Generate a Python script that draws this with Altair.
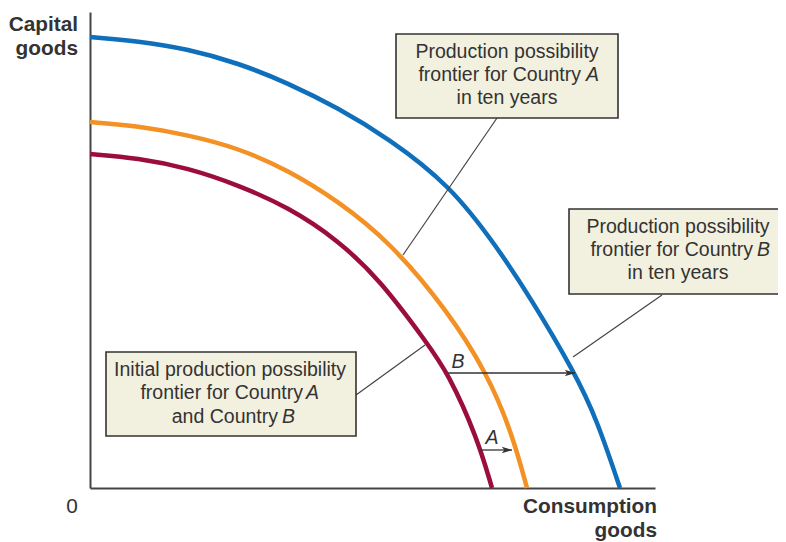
import altair as alt
import pandas as pd

# ---- data (chart units: consumption goods on x, capital goods on y) ----
initial_x = [0, 48, 98, 148, 198, 248, 290, 337, 358, 387, 402]
initial_y = [334, 330, 320, 303, 281, 248, 208, 145, 115, 51, 0]

countryA_x = [0, 48, 98, 148, 198, 248, 300, 357, 397, 422, 437]
countryA_y = [366, 362, 353, 340, 318, 287, 246, 178, 115, 55, 0]

countryB_x = [0, 48, 98, 148, 198, 248, 298, 360, 407, 440, 485, 507, 530]
countryB_y = [451, 447, 439, 425, 405, 380, 350, 303, 241, 191, 115, 68, 0]

box_x1 = [306, 479, 16]
box_x2 = [528, 692, 266]
box_y1 = [454, 279, 136]
box_y2 = [370, 194, 52]

leader_x1 = [407, 572, 266]
leader_y1 = [370, 193, 93]
leader_x2 = [313, 483, 335]
leader_y2 = [233, 131, 143]

arrow_x1 = [358, 390]
arrow_x2 = [485, 422]
arrow_y = [115, 38]
arrow_letters = ["B", "A"]
letter_x = [368, 402]
letter_y = [126, 50]

center_text = ["Production possibility", "in ten years",
               "Production possibility", "in ten years",
               "Initial production possibility"]
center_x = [417, 417, 588, 588, 140]
center_y = [436, 390, 261, 215, 118]

right_text = ["frontier for Country", "frontier for Country",
              "frontier for Country", "and Country"]
right_x = [491, 663, 213, 188]
right_y = [413, 238, 95, 71]

italic_text = ["A", "B", "A", "B"]
italic_x = [496, 667, 216, 192]
italic_y = [413, 238, 95, 71]

ytitle_text = ["Capital", "goods"]
ytitle_x = [-12, -12]
ytitle_y = [463, 439]

xtitle_text = ["Consumption", "goods"]
xtitle_x = [567, 567]
xtitle_y = [-19, -43]

origin_text = ["0"]
origin_x = [-18]
origin_y = [-19]

# ---- tables ----
curves = pd.concat([
    pd.DataFrame({"x": initial_x, "y": initial_y, "curve": "initial", "i": range(len(initial_x))}),
    pd.DataFrame({"x": countryA_x, "y": countryA_y, "curve": "A", "i": range(len(countryA_x))}),
    pd.DataFrame({"x": countryB_x, "y": countryB_y, "curve": "B", "i": range(len(countryB_x))}),
])
boxes = pd.DataFrame({"x": box_x1, "x2": box_x2, "y": box_y1, "y2": box_y2})
leaders = pd.DataFrame({"x": leader_x1, "y": leader_y1, "x2": leader_x2, "y2": leader_y2})
arrows = pd.DataFrame({"x": arrow_x1, "x2": arrow_x2, "y": arrow_y})
letters = pd.DataFrame({"x": letter_x, "y": letter_y, "t": arrow_letters})
ctext = pd.DataFrame({"x": center_x, "y": center_y, "t": center_text})
rtext = pd.DataFrame({"x": right_x, "y": right_y, "t": right_text})
itext = pd.DataFrame({"x": italic_x, "y": italic_y, "t": italic_text})
ytitle = pd.DataFrame({"x": ytitle_x, "y": ytitle_y, "t": ytitle_text})
xtitle = pd.DataFrame({"x": xtitle_x, "y": xtitle_y, "t": xtitle_text})
origin = pd.DataFrame({"x": origin_x, "y": origin_y, "t": origin_text})

xs = alt.Scale(domain=[0, 565], nice=False, zero=False)
ys = alt.Scale(domain=[0, 476], nice=False, zero=False)
ax = alt.Axis(domain=True, domainColor="#444444", domainWidth=2, ticks=False,
              labels=False, grid=False, title=None)


def X(f="x"):
    return alt.X(f, type="quantitative", scale=xs, axis=ax)


def Y(f="y"):
    return alt.Y(f, type="quantitative", scale=ys, axis=ax)


TEXT = "#333333"
FONT = "Liberation Sans"
FS = 19.5
TFS = 20.8

curve_layer = alt.Chart(curves).mark_line(strokeWidth=4.5, interpolate="basis", strokeCap="butt").encode(
    x=X(), y=Y(),
    color=alt.Color("curve:N", scale=alt.Scale(domain=["initial", "A", "B"],
                                               range=["#9b0d3e", "#f39124", "#0f6fba"]), legend=None),
    detail="curve:N",
    order="i:Q",
)

leader_layer = alt.Chart(leaders).mark_rule(color="#444444", strokeWidth=1.2).encode(
    x=X(), y=Y(), x2="x2", y2="y2")

shadow_layer = alt.Chart(boxes).mark_rect(fill="#cccdcf", xOffset=8, yOffset=8).encode(
    x=X(), x2="x2", y=Y(), y2="y2")

box_layer = alt.Chart(boxes).mark_rect(fill="#f2f0df", stroke="#333333", strokeWidth=1.6).encode(
    x=X(), x2="x2", y=Y(), y2="y2")

arrow_layer = alt.Chart(arrows).mark_rule(color="#333333", strokeWidth=1.3).encode(
    x=X(), x2="x2", y=Y())

head_layer = alt.Chart(arrows).mark_point(
    shape="M -1 -0.6 L 1 0 L -1 0.6 L -0.5 0 Z", filled=True, color="#333333",
    size=110, opacity=1, xOffset=-5).encode(x=X("x2"), y=Y())

letter_layer = alt.Chart(letters).mark_text(font=FONT, fontSize=FS, fontStyle="italic",
                                            color=TEXT, baseline="middle").encode(x=X(), y=Y(), text="t:N")

ctext_layer = alt.Chart(ctext).mark_text(font=FONT, fontSize=FS, color=TEXT, align="center",
                                         baseline="middle").encode(x=X(), y=Y(), text="t:N")
rtext_layer = alt.Chart(rtext).mark_text(font=FONT, fontSize=FS, color=TEXT, align="right",
                                         baseline="middle").encode(x=X(), y=Y(), text="t:N")
itext_layer = alt.Chart(itext).mark_text(font=FONT, fontSize=FS, fontStyle="italic", color=TEXT,
                                         align="left", baseline="middle").encode(x=X(), y=Y(), text="t:N")

ytitle_layer = alt.Chart(ytitle).mark_text(font=FONT, fontSize=TFS, fontWeight="bold", color=TEXT,
                                           align="right", baseline="middle").encode(x=X(), y=Y(), text="t:N")
xtitle_layer = alt.Chart(xtitle).mark_text(font=FONT, fontSize=TFS, fontWeight="bold", color=TEXT,
                                           align="right", baseline="middle").encode(x=X(), y=Y(), text="t:N")
origin_layer = alt.Chart(origin).mark_text(font=FONT, fontSize=TFS, color=TEXT,
                                           align="center", baseline="middle").encode(x=X(), y=Y(), text="t:N")

chart = alt.layer(
    curve_layer, leader_layer, shadow_layer, box_layer, arrow_layer, head_layer,
    letter_layer, ctext_layer, rtext_layer, itext_layer, ytitle_layer, xtitle_layer, origin_layer,
).properties(
    width=565, height=476,
    padding={"left": 82, "top": 4, "right": 123, "bottom": 54},
    autosize=alt.AutoSizeParams(type="none"),
    background="white",
).configure_view(stroke=None)

chart.save("out.html", embed_options={"renderer": "svg", "actions": False})
